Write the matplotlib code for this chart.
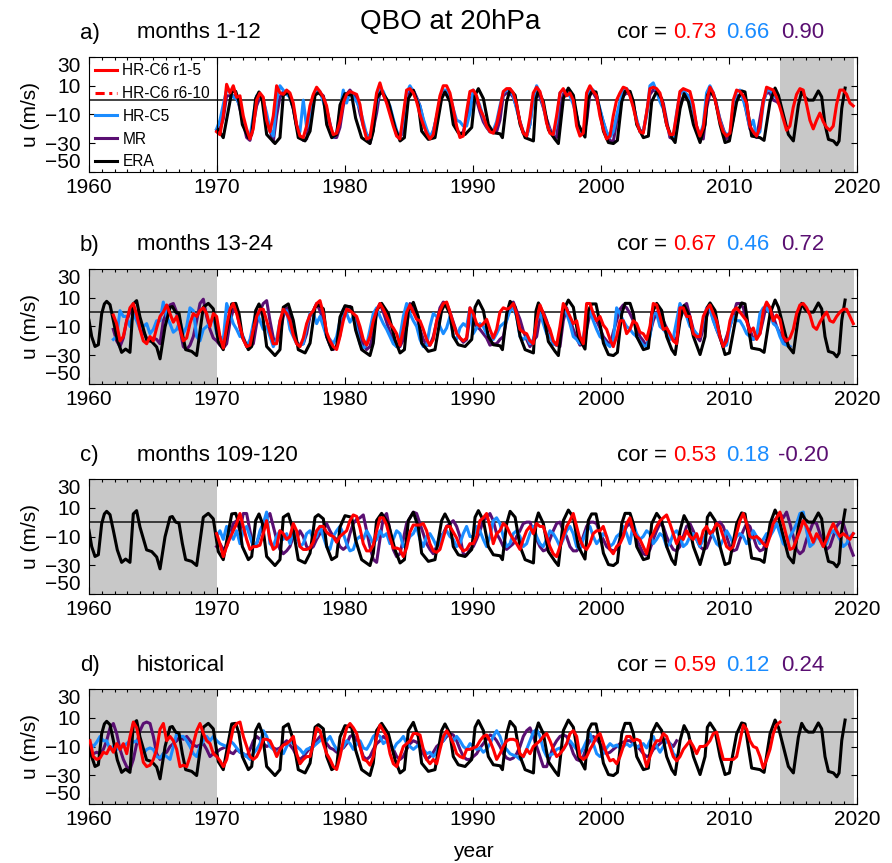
import numpy as np
import matplotlib
matplotlib.use("Agg")
import matplotlib.pyplot as plt
from matplotlib.lines import Line2D

plt.rcParams['font.family'] = ['Liberation Sans', 'DejaVu Sans']

# ---------------- data (m/s, zonal wind at 20 hPa) ----------------
# ERA reanalysis (irregular turning points)
era_year = [1960.0, 1960.21, 1960.47, 1960.73, 1960.99, 1961.2, 1961.38, 1961.64, 1961.9, 1962.21,
            1962.55, 1962.86, 1963.2, 1963.46, 1963.72, 1963.98, 1964.5, 1964.9, 1965.29, 1965.55,
            1965.94, 1966.33, 1966.51, 1966.77, 1967.03, 1967.29, 1967.55, 1968.02, 1968.41, 1968.93,
            1969.32, 1969.71, 1970.1, 1970.49, 1971.15, 1971.46, 1971.72, 1971.98, 1972.45, 1972.71,
            1973.02, 1973.28, 1973.54, 1973.88, 1974.53, 1974.92, 1975.18, 1975.57, 1975.96, 1976.35,
            1976.88, 1977.27, 1977.66, 1977.92, 1978.31, 1978.57, 1978.96, 1979.35, 1979.61, 1980.0,
            1980.52, 1980.83, 1981.3, 1981.95, 1982.21, 1982.47, 1982.86, 1983.39, 1983.91, 1984.3,
            1984.64, 1984.95, 1985.34, 1985.73, 1985.99, 1986.51, 1987.03, 1987.55, 1987.81, 1988.2,
            1988.46, 1988.85, 1989.38, 1989.9, 1990.16, 1990.42, 1990.81, 1991.2, 1991.59, 1992.11,
            1992.3, 1992.63, 1992.9, 1993.29, 1993.68, 1994.07, 1994.72, 1994.93, 1995.11, 1995.5,
            1995.89, 1996.41, 1996.67, 1997.06, 1997.45, 1997.84, 1998.23, 1998.75, 1999.01, 1999.27,
            1999.61, 1999.87, 2000.19, 2000.58, 2000.97, 2001.28, 2001.62, 2001.88, 2002.27, 2002.53,
            2002.79, 2003.31, 2003.7, 2003.96, 2004.35, 2004.74, 2005.13, 2005.53, 2005.79, 2006.18,
            2006.49, 2006.83, 2007.22, 2007.74, 2008.13, 2008.31, 2008.52, 2008.91, 2009.3, 2009.69,
            2010.03, 2010.6, 2010.99, 2011.25, 2011.51, 2011.77, 2012.42, 2012.74, 2013.21, 2013.6,
            2013.86, 2014.25, 2014.64, 2015.03, 2015.42, 2015.68, 2015.94, 2016.2, 2016.59, 2016.98,
            2017.24, 2017.5, 2017.77, 2018.16, 2018.42, 2018.6, 2018.81, 2019.07]
era_u = [-5.7, -17, -23.9, -22.7, -1.1, 5.7, 7.5, 5.2, -5.7, -19.3,
         -28, -25.7, -28, 5.7, 8, -3.4, -19.3, -20.5, -24.3, -32.5,
         -10.2, 3.4, 3.9, 0, -0.7, -14.8, -26.1, -27.3, -30.2, 3.4,
         6.1, 2.3, -20.5, -26.1, 5.7, 6.1, -1.1, -17, -26.1, -23.9,
         1.1, 5.7, -0.7, -23.9, -30.2, -26.1, 3.4, 5.7, -5.7, -26.1,
         -28.4, -21.6, 3.4, 5.2, 2.3, -17, -26.1, -23.9, -3.4, 4.5,
         3.4, -12.5, -26.1, -30.2, -21.6, 1.1, 6.1, -1.1, -19.3, -28.4,
         -26.1, 1.1, 6.8, -3.4, -21.6, -27.3, -26.1, 1.1, 5.7, -1.1,
         -17, -22.7, -23.9, -19, 3.4, 8, 1.1, -17, -22.7, -23.4,
         -26.1, -1.1, 7.5, 3.4, -17, -26.1, -28.4, 1.1, 6.4, -1.1,
         -20.5, -27.3, -30.2, 1.1, 8.4, 3.4, -17, -25.7, 1.1, 5.7,
         5.7, -5.7, -21.6, -29.5, -30.2, -28, -1.1, 6.1, 6.1, -1.1,
         -17, -26.1, -25, -1.1, 6.1, 1.1, -17, -26.1, -29.5, -5.7,
         4.5, -1.1, -17, -29.5, -17, 3.4, 6.4, 1.1, -17, -29.5,
         -28.4, -1.1, 6.4, 5.7, -10.2, -25, -26.1, -28, -1.1, 8.4,
         3.4, -10.2, -23.9, -28.4, -3.4, 6.1, 2, 0, 0, 6.4,
         2.3, -17, -27.3, -28.4, -31.1, -28.4, -5.7, 8.4]

# model series: regularly sampled, spacing dt years from the given start year
dt = 0.2604

# a) months 1-12 (start 1969.97)
a_start = 1969.97
a_hrc6 = [-22, -24, -11, 11, 5, 10, 2, 3, -11, -20,
          -27, -20, 0, 5, 2, -14, -22, -11, 10, 5,
          4, 7, 5, -2, -17, -25, -26, -18, -4, 4,
          9, 6, 2, -4, -17, -24, -23, -15, -2, 4,
          6, 5, 4, -3, -18, -27, -26, -11, 5, 12,
          4, -2, -10, -18, -25, -27, -10, 7, 8, 5,
          -1, -10, -17, -23, -27, -24, -10, 3, 10, 10,
          5, -6, -18, -26, -25, -8, 6,
          7, 3, -6, -11, -18, -22, -23, -17, -6, 6,
          8, 8, 5, -3, -15, -23, -25, -12, 5, 9,
          6, -3, -16, -23, -24, -11, 5, 8, 3, 5,
          0, -18, -25, -23, 5, 10, 6, 3, -11, -20,
          -27, -25, -11, 0, 5, 9, 8, 3, -5, -15,
          -22, -23, -9, 8, 9, 8, 5, -4, -17, -24,
          -24, -10, 6, 8, 7, 6, -3, -18, -25, -19,
          -1, 9, 5, -4, -15, -22, -25, -23, 0, 7,
          6, 3, -2, -18, -22, -25, -19, -1, 9, 8,
          7, 2, -5, -13, -21, -18, -5, 4, 8, 7,
          -3, -14, -20, -14, -9, -15, -19, -21, -18, -3,
          7, 7, 4, -2, -4]
a_hrc5 = [-20, -14, -3, 7, 6, 2, 1, -4, -14, -22,
          -26, -11, 3, 2, 0, -9, -20, -25, 0, 10,
          7, 4, 2, -5, -18, -22, 0, -19, -14, 0,
          8, 6, -1, -9, -18, -26, -23, -8, 7, -2,
          6, 2, -1, -6, -15, -24, -25, -18, -2, 8,
          6, 0, -4, -13, -21, -27, -15, 5, 10, 6,
          1, -4, -13, -20, -26, -21, -12, 0, 7, 7,
          3, -6, -14, -15, -18, -18, -9,
          7, 2, -4, -12, -18, -22, -21, -15, -4, 5,
          7, 7, 3, -6, -15, -23, -25, -17, 0, 10,
          5, -4, -15, -22, -25, -15, 5, 7, 6, 3,
          -3, -11, -22, -23, -8, 8, 7, 3, -6, -15,
          -22, -26, -22, -11, -1, 7, 8, 5, -4, -13,
          -22, -22, -11, 10, 12, 6, -1, -6, -17, -24,
          -27, -9, 4, 7, 4, 2, -6, -20, -25, -17,
          5, 10, 5, -3, -14, -21, -24, -23, -4, 6,
          7, 0, -8, -19, -14, -25, -22, -3, 7, 7,
          4, 1, -2]
a_mr = [-21, -20, -13, 3, 3, 3, 3, -6, -16, -26,
        -28, -17, -4, 2, 0, -12, -21, -29, -11, 2,
        6, 5, 2, -6, -18, -25, -28, -27, -12, 3,
        5, 5, 3, -6, -16, -26, -26, -19, -4, 4,
        7, 4, 2, -9, -18, -24, -30, -20, -9, 6,
        4, -1, -8, -15, -24, -26, -22, -4, 6, 7,
        2, -4, -14, -23, -26, -22, -12, -2, 6, 4,
        3, -9, -20, -24, -22, -14, 0,
        4, 0, -8, -15, -19, -22, -22, -22, -14, 3,
        5, 5, 2, -5, -15, -22, -25, -17, 3, 5,
        2, -5, -13, -20, -25, -26, -7, 4, 6, 3,
        0, -11, -22, -24, -15, 5, 5, 1, -7, -15,
        -23, -28, -29, -15, -2, 3, 5, 4, -3, -14,
        -21, -22, -9, 4, 7, 6, 2, -2, -14, -26,
        -27, -20, -4, 2, 4, 2, -6, -18, -25, -27,
        -6, 5, 5, -4, -13, -20, -27, -24, -13, 3,
        3, 3, -9, -20, -23, -26, -13, 0, 5, 5,
        0, -1, -3]

# b) months 13-24 (start 1961.90)
b_start = 1961.90
b_hrc6 = [-2, -8, -20, -17, -6, 3, 6, -2, -12, -20,
          -22, -17, -20, -11, -3, 0, 5, -1, -7, -3,
          -12, -20, -18, -8, -1, -3, 1, 3, -1, -10,
          -1, -3, -17, -25, -10, 2, 6, -1, -10, -19,
          -24, -23, -12, -3, 2, 2, -6, -14, -22, -22,
          -6, 2, -1, -6, -16, -22, -24, -18, -8, -2,
          1, 6, 8, -1, -14, -20, -24, -26, -17, -6,
          2, 1, -1, -3, -10, -19, -23, -17, -6, 1,
          6, 2, -3, -8, -11, -15, -23, -12, 0, 5,
          0, -5, -6, -12, -19, -23, -19, -6, 1, 6,
          7, 0, -8, -15, -18, -20, -18, 3,
          -1, -8, -10, -8, -5, -12, -18, -12, 0, 3,
          2, 3, 6, -1, -12, -14, -15, -20, -22, -6,
          5, -1, -7, -12, -20, -23, -10, 6, 2, -3,
          -8, -6, -17, -22, 6, 6, -1, -6, -3, -9,
          -12, -19, -24, -17, -6, -6, -15, -12, -6, -8,
          -14, -15, -19, -10, 6, 5, -3, -12, -11, -15,
          -20, -22, 3, 3, -3, -3, -15, -17, -17, -3,
          2, 5, -1, -6, -17, -24, -20, -6, 1, 3,
          0, -3, -6, -14, -11, -19, -15, 1, 7, 3,
          -6, -2, -5, -17, -20, -18, -12, -1, 5, 6,
          3, -2, -10, -12, -7, -3, 0, -6, -7, -3,
          0, 2, 2, -3, -8]
b_hrc5 = [-19, -17, 1, -3, -3, -10, -1, -6, -12, -10,
          -8, -15, -12, -6, -6, 7, -3, -8, -14, -12,
          -6, -15, -10, 3, 1, -17, -20, -12, -10, -8,
          -3, -15, -17, -19, 6, -1, -8, -12, -17, -17,
          -24, -19, -8, 1, -6, -12, -10, -17, -24, -19,
          -6, -1, 1, -12, -17, -22, -23, -22, -10, -1,
          -1, -8, -3, -10, -17, -19, -22, -17, -6, 2,
          -1, -7, -3, -12, -22, -25, -23, -12, -1, 3,
          -3, -8, -12, -17, -22, -24, -17, -3, 6, -1,
          -6, -10, -19, -24, -23, -10, -1, -3, -10, -15,
          -11, -3, -17, -19, -11, -8, -10, 3,
          -15, -11, -8, -10, -15, -17, -19, -15, -10, -8,
          -6, 1, 3, -3, -17, -19, -17, -22, -19, -6,
          -1, -8, -15, -17, -22, -23, -15, 3, -1, -8,
          -17, -19, -22, -17, -6, 1, -6, -12, -17, -19,
          -22, -24, -19, 3, -1, -6, -10, -12, -15, -17,
          -20, -23, -24, -17, -1, -1, -10, -12, -15, -19,
          -18, -6, 6, 1, -3, -10, -12, -15, -17, -6,
          3, 2, -6, -12, -17, -24, -23, -10, -3, -6,
          -6, -10, -15, -17, -19, -17, -1, 3, 3, -1,
          -8, -10, -17, -22, -23, -24]
b_mr = [-12, -20, -24, -18, -6, 0, 3, -1, -8, -14,
        -18, -19, -18, -19, -22, -6, 0, 5, 6, 0,
        -12, -24, -26, -23, -17, -6, 6, 9, -3, -12,
        -18, -20, -23, -25, -22, -7, 2, 1, -11, -19,
        -23, -24, -22, -8, 1, 6, 8, -6, -18, -21,
        -15, -3, 3, -4, -15, -21, -23, -22, -15, -3,
        1, 6, 1, -6, -17, -23, -26, -24, -16, -1,
        3, 4, -1, -8, -16, -23, -26, -24, -15, 1,
        6, 0, -7, -14, -19, -24, -24, -19, -10, 6,
        3, -3, -12, -19, -23, -23, -17, -7, 3, 7,
        6, 0, -7, -14, -18, -21, -19, -3,
        -6, -10, -12, -15, -18, -23, -22, -22, -19, -17,
        -5, 3, 7, 1, -5, -13, -19, -24, -20, -17,
        -3, 0, -6, -14, -22, -23, -24, -6, 3, -5,
        -12, -18, -23, -22, -12, -1, -3, -6, -11, -17,
        -20, -23, -14, -6, 2, 5, 3, -1, -6, -11,
        -17, -20, -24, -15, -6, 0, 0, -6, -11, -17,
        -18, -19, -4, 4, 6, -3, -12, -17, -20, -11,
        -3, 3, -5, -12, -18, -24, -17, -10, -2, 6,
        6, 3, -6, -12, -19, -17, -15, -5, 6, 3,
        -3, -10, -15, -20, -22, -24]

# c) months 109-120 (start 1969.97)
c_start = 1969.97
c_hrc6 = [-8, -15, -24, -17, -11, -6, -1, 6, -3, -12,
          -19, -17, -17, -16, -8, 1, -12, -19, -17, -6,
          -8, -12, -10, -1, -6, -17, -19, -19, -18, -14,
          -6, -3, -3, -7, -9, -10, -14, -10, -8, -6,
          1, 5, 4, -4, -15, -20, -20, -16, -6, 3,
          3, -2, -11, -18, -18, -19, -24, -18, -7, -2,
          -2, -2, -1, -6, -15, -20, -21, -19, -11, -3,
          -3, -7, -11, -17, -20, -19, -15,
          -15, -10, 1, 3, 6, -3, -15, -8, -6, -1,
          -3, -8, -12, -15, -19, -12, -6, -3, -8, -1,
          -3, -3, -10, -17, -22, -24, -17, -10, -3, 1,
          6, -3, -12, -17, -19, -15, -8, -6, -6, -3,
          -10, -19, -22, -17, -15, -10, -1, 3, -6, -10,
          -12, -17, -22, -12, -8, -3, 1, 3, 5, -1,
          -8, -15, -10, -12, -6, -10, -12, -8, -15, -6,
          -3, -8, -6, -1, -3, -10, -17, -19, -17, -8,
          1, 6, -1, -10, -11, -10, -12, -15, -17, -10,
          -1, 3, 7, -1, -10, -19, -18, -12, -6, 1,
          -3, -8, -14, -8, -12, -17, -12, -6, -1, -6,
          -10, -8, -10, -12, -8]
c_hrc5 = [-10, -6, -12, -3, -8, -12, -6, -15, -6, -3,
          -10, -17, -15, -6, -1, 7, -15, -17, -10, -6,
          -12, -8, -15, -6, -10, -17, -15, -8, -6, -12,
          -10, -3, -10, -17, -19, -10, -6, -3, -8, -15,
          -20, -19, -12, -10, -12, -6, -10, -15, -12, -6,
          -10, -8, -15, -12, -6, -8, -17, -15, -10, -8,
          -3, -12, -17, -10, -8, -12, -17, -15, -8, -6,
          -10, -12, -17, -15, -8, -3, -10,
          -10, -3, -6, -12, -17, -10, 1, 3, -1, -10,
          -17, -15, -8, -6, -10, -17, -15, -8, -3, -10,
          -15, -17, -12, -6, -8, -12, -17, -12, -6, -3,
          -8, -17, -19, -12, -6, -3, -10, -15, -12, -8,
          -10, -17, -15, -10, -8, -3, -8, -15, -1, -8,
          -12, -10, -6, -8, -15, -12, -8, -10, -17, -15,
          -8, -6, -10, -17, -15, -10, -8, -12, -17, -12,
          -8, -6, -10, -15, -17, -12, -6, -10, -15, -10,
          -8, -10, -15, -12, -6, -10, -15, -12, -8, -10,
          -6, -1, -8, -15, -17, -10, -6, -1, 6, 7,
          -6, -17, -15, -10, -12, -17, -15, -8, -6, -8,
          -12, -17, -15, -10, -8]
c_mr = [-17, -15, -19, -17, -10, -1, 1, -6, 6, 6,
        -6, -17, -15, -8, -1, 3, 6, -3, -12, -19,
        -22, -20, -17, -10, -12, -6, -10, -17, -19, -17,
        -12, -8, -6, -1, -6, -10, -12, -17, -19, -17,
        -8, -1, 2, 3, 5, -6, -17, -26, -28, -12,
        3, 6, -6, -19, -24, -22, -12, -1, 3, 7,
        6, -1, -8, -15, -19, -22, -17, -10, -8, -3,
        -1, 1, -3, -10, -22, -23, -19,
        -17, -12, -6, 1, 3, 6, 1, -8, -12, -17,
        -19, -17, -15, -10, -6, -1, 0, 0, -6, -12,
        -17, -20, -19, -12, -6, -1, 0, -6, -10, -17,
        -20, -20, -17, -10, -3, 0, 0, -1, -8, -12,
        -17, -19, -20, -19, -12, -8, -3, -1, -6, -12,
        -17, -22, -23, -19, -12, -6, -1, -3, -10, -15,
        -19, -20, -17, -10, -3, -1, -6, -12, -17, -19,
        -18, -12, -6, -1, 0, -3, -10, -17, -20, -19,
        -12, -6, -1, -3, -10, -17, -20, -19, -12, -6,
        0, 3, 6, 3, 7, -1, -10, -19, -22, -20,
        -12, -6, 0, -1, -8, -15, -19, -17, -10, -3,
        0, -1, -8, -17, -23]

# d) historical (start 1960.08)
d_start = 1960.08
d_hrc6 = [-6, -17, -19, -18, -14, -15, -10, -14, -8, -12,
          -8, -15, -3, 7, 3, -9, -21, -24, -23, -19,
          -12, 2, 6, -6, -3, -6, -12, -24, -23, -24,
          -17, -8, 1, 6, -1, -6, -8, -15, -17, -20,
          -24, -19, -8, 3, 6, 7, -3, -10, -17, -19,
          -17, -12, -5, -5, -6, -11, -17, -12, -9, -8,
          -6, -3, -15, -22, -19, -17, -17, -8, 3, 1,
          -8, -15, -19, -24, -26, -17, -6, 3, 6, 3,
          -1, -10, -19, -20, -23, -17, -3, 5, 1, -3,
          -15, -22, -24, -17, -10, -8, -6, -1, -1, -2,
          -12, -19, -22, -19, -22, -12, -3, 1, -3, -8,
          -15, -17, -18, -12,
          -12, -11, -10, -6, -3, -2, -6, -12, -19, -15,
          -10, -6, -5, -5, -6, -15, -17, -12, -15, -10,
          -8, -6, -3, -1, -6, -12, -17, -15, -12, -8,
          -1, 1, -3, -17, -19, -17, -12, -8, -3, -1,
          -8, -15, -20, -19, -22, -17, -10, -3, -3, -6,
          -5, -6, -15, -24, -17, -10, -6, -6, -1, -3,
          -10, -17, -20, -17, -12, -9, -6, -10, -15, -10,
          -10, -9, -6, -1, 0, -10, -19, -19, -19, -19,
          -17, -6, 5, 2, -6, -10, -11, -17, -25, -19,
          -12, -1, 5, 7]
d_hrc5 = [-8, -10, -7, -3, -6, -6, -12, -10, -12, -11,
          -10, -8, -6, -7, -6, -8, -15, -12, -11, -12,
          -17, -18, -15, -17, -19, -10, -1, -3, -3, -6,
          -10, -15, -17, -10, -6, -3, -6, -3, -6, -8,
          -9, -10, -6, -8, -11, -14, -15, -17, -19, -15,
          -12, -8, 1, -3, -10, -12, -15, -12, -15, -10,
          -6, -8, -10, -12, -15, -12, -11, -10, -8, -6,
          -3, -6, -3, -8, -12, -14, -10, -6, -8, -12,
          -8, -6, -11, -12, -8, -3, -1, -3, -8, -6,
          -10, -12, -8, -6, -3, -8, -10, -12, -10, -8,
          -12, -15, -14, -17, -14, -8, -6, -1, -3, -6,
          -3, -6, -10, -12,
          -8, -10, -12, -11, -14, -12, -8, -3, 1, -3,
          -10, -12, -15, -16, -17, -19, -17, -12, -6, 0,
          2, -3, -12, -17, -16, -15, -12, -11, -12, -8,
          -6, -9, -12, -15, -11, -6, -1, -8, -15, -17,
          -15, -11, -8, -10, -9, -11, -10, -8, -10, -8,
          -11, -9, -8, -11, -6, -3, -10, -14, -10, -6,
          -8, -15, -17]
d_mr = [-16, -15, -14, -15, -12, -6, 3, 6, -1, -12,
        -19, -24, -26, -19, -8, 1, 6, 7, 6, -3,
        -15, -19, -15, -14, -10, -8, -6, -3, -5, -3,
        -6, -9, -10, -9, -8, -12, -17, -15, -14, -12,
        -11, -10, -14, -15, -12, -14, -15, -17, -12, -6,
        -3, -5, -8, -10, -9, -11, -12, -11, -8, -6,
        -9, -12, -17, -19, -17, -14, -11, -10, -6, -3,
        -5, -8, -11, -12, -14, -12, -11, -8, -3, -2,
        -6, -10, -17, -19, -17, -12, -8, -6, -3, -5,
        -8, -12, -17, -19, -17, -12, -8, -6, -7, -10,
        -15, -19, -17, -14, -10, -8, -6, -3, -1, -2,
        -6, -12, -17, -19,
        -19, -17, -15, -11, -8, -5, -2, -3, -6, -10,
        -15, -18, -19, -18, -15, -10, -3, 1, 3, -3,
        -10, -17, -24, -24, -17, -10, -6, -3, -2, -3,
        -8, -15, -19, -20, -17, -10, -6, -3, -5, -8,
        -12, -15, -14, -12, -10, -8, -7, -6, -6, -8,
        -10, -12, -15, -17, -16, -12, -10, -8, -6, -5,
        -8, -10, -6]

panel_letters = ['a)', 'b)', 'c)', 'd)']
panel_titles = ['months 1-12', 'months 13-24', 'months 109-120', 'historical']
cor_hrc6 = ['0.73', '0.67', '0.53', '0.59']
cor_hrc5 = ['0.66', '0.46', '0.18', '0.12']
cor_mr = ['0.90', '0.72', '-0.20', '0.24']
legend_labels = ['HR-C6 r1-5', 'HR-C6 r6-10', 'HR-C5', 'MR', 'ERA']

panels = [
    (a_start, a_hrc6, a_hrc5, a_mr),
    (b_start, b_hrc6, b_hrc5, b_mr),
    (c_start, c_hrc6, c_hrc5, c_mr),
    (d_start, d_hrc6, d_hrc5, d_mr),
]

# ---------------- style ----------------
RED = '#FF0000'
BLUE = '#1A8CFF'
PURPLE = '#5A0F72'
BLACK = '#000000'
GRAY = '#C8C8C8'
LW = 2.2

W, H = 892, 863
fig = plt.figure(figsize=(W / 100, H / 100), dpi=100)

def fx(px):
    return px / W

def fy(py):
    return 1 - py / H

ax_left, ax_right = 89, 857
tops = [57, 269, 479, 689]
ax_h = 115

era_year_arr = np.array(era_year)
era_u_arr = np.array(era_u)

for i, (start, hr6, hr5, mr) in enumerate(panels):
    top = tops[i]
    ax = fig.add_axes([fx(ax_left), fy(top + ax_h), fx(ax_right - ax_left), ax_h / H])
    ax.set_xlim(1960, 2020)
    ax.set_ylim(-50, 30)

    # shading
    if i > 0:
        ax.axvspan(1960, 1970, color=GRAY, lw=0, zorder=0)
    ax.axvspan(2014, 2019.8, color=GRAY, lw=0, zorder=0)
    ax.axhline(0, color='#222222', lw=1.2, zorder=1)

    t6 = start + dt * np.arange(len(hr6))
    t5 = start + dt * np.arange(len(hr5))
    tm = start + dt * np.arange(len(mr))

    ax.plot(tm, mr, color=PURPLE, lw=LW, zorder=2)
    ax.plot(t5, hr5, color=BLUE, lw=LW, zorder=3)
    if i == 0:
        m = era_year_arr >= 1970
        ax.plot(era_year_arr[m], era_u_arr[m], color=BLACK, lw=LW, zorder=4)
    else:
        ax.plot(era_year_arr, era_u_arr, color=BLACK, lw=LW, zorder=4)
    ax.plot(t6, hr6, color=RED, lw=LW, zorder=5)

    # ticks
    ax.set_xticks(np.arange(1960, 2021, 10))
    ax.set_xticks(np.arange(1960, 2021, 1), minor=True)
    ax.set_yticks([30, 10, -10, -30, -50])
    ax.tick_params(axis='both', which='both', direction='in', top=True, right=True,
                   labelsize=15, width=0.8)
    ax.tick_params(axis='x', which='major', length=5, pad=4)
    ax.tick_params(axis='x', which='minor', length=2.5)
    ax.tick_params(axis='y', which='major', length=4, pad=6)
    for s in ax.spines.values():
        s.set_linewidth(0.8)
    ylabs = ax.get_yticklabels()
    ylabs[0].set_va('top')
    ylabs[-1].set_va('bottom')

    if i == 0:
        ax.axvline(1970, color='black', lw=0.8, zorder=6)
        handles = [Line2D([], [], color=RED, lw=LW),
                   Line2D([], [], color=RED, lw=LW, ls=(0, (3, 1.5, 1, 1.5))),
                   Line2D([], [], color=BLUE, lw=LW),
                   Line2D([], [], color=PURPLE, lw=LW),
                   Line2D([], [], color=BLACK, lw=LW)]
        ax.legend(handles, legend_labels, loc='upper left', bbox_to_anchor=(0, 1),
                  frameon=False, fontsize=11.2, handlelength=1.4, handletextpad=0.35,
                  labelspacing=0.5, borderaxespad=0.1, borderpad=0.3)

    # text above panel
    yc = top - 24
    fig.text(fx(80), fy(yc), panel_letters[i], fontsize=16, va='center', ha='left')
    fig.text(fx(137), fy(yc), panel_titles[i], fontsize=16, va='center', ha='left')
    fig.text(fx(642), fy(yc), 'cor =', fontsize=16, va='center', ha='center')
    fig.text(fx(695), fy(yc), cor_hrc6[i], fontsize=16, va='center', ha='center', color=RED)
    fig.text(fx(748), fy(yc), cor_hrc5[i], fontsize=16, va='center', ha='center', color=BLUE)
    fig.text(fx(803), fy(yc), cor_mr[i], fontsize=16, va='center', ha='center', color=PURPLE)
    fig.text(fx(30), fy(top + ax_h / 2), 'u (m/s)', fontsize=15, rotation=90,
             va='center', ha='center')

fig.text(fx(450), fy(22), 'QBO at 20hPa', fontsize=20, va='center', ha='center')
fig.text(fx(473), fy(851), 'year', fontsize=15, va='center', ha='center')

fig.savefig('out.png', dpi=100)
